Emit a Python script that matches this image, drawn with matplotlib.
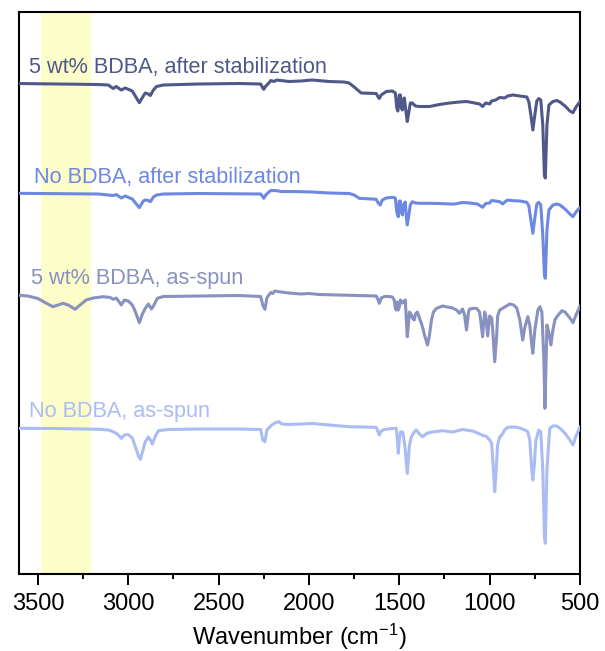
import matplotlib
matplotlib.use("Agg")
import matplotlib.pyplot as plt
from matplotlib.ticker import MultipleLocator

plt.rcParams['font.family'] = ['Liberation Sans', 'DejaVu Sans']
plt.rcParams['mathtext.fontset'] = 'custom'
plt.rcParams['mathtext.rm'] = 'Liberation Sans'
plt.rcParams['mathtext.it'] = 'Liberation Sans'

# ---------------- data ----------------
labels = ["5 wt% BDBA, after stabilization", "No BDBA, after stabilization",
          "5 wt% BDBA, as-spun", "No BDBA, as-spun"]

wn_stab_bdba = [3622, 3389, 3167, 3111, 3083, 3067, 3039, 3017, 2978, 2939, 2917, 2906, 2889, 2878,
                2861, 2844, 2806, 2611, 2389, 2267, 2256, 2250, 2239, 2222, 2211, 2194, 2178, 2156,
                2111, 2044, 1983, 1889, 1806, 1778, 1750, 1711, 1628, 1617, 1611, 1600, 1572, 1539,
                1522, 1514, 1508, 1500, 1494, 1489, 1483, 1478, 1472, 1461, 1456, 1450, 1439, 1428,
                1411, 1389, 1333, 1278, 1222, 1167, 1128, 1083, 1056, 1039, 1022, 1000, 989, 967,
                944, 917, 900, 872, 833, 794, 783, 772, 761, 750, 739, 728, 717, 706, 697, 692, 683,
                672, 650, 628, 611, 583, 556, 539, 522, 500]
t_stab_bdba = [100, 99.5, 99, 98.5, 95, 97, 93.5, 95.5, 92.5, 80.8, 87.5, 90.5, 89.5, 88,
               93.5, 97, 98.5, 99.5, 100, 99.5, 95.5, 94.2, 97.5, 100.5, 103, 102, 103.5, 103,
               102, 102.5, 103.5, 102, 101.5, 100.5, 96.5, 90.5, 90, 86.5, 85, 88.5, 92, 92.5,
               90.5, 75.5, 72.5, 88.5, 88.5, 75.5, 73.5, 83.5, 85.5, 68.5, 62, 68.5, 80.5, 80.5,
               77.5, 77, 77, 79, 80.5, 81.5, 82, 80.5, 79.5, 77, 80.5, 79.5, 82.5, 83.5,
               86, 85.5, 87.5, 88.5, 87.5, 86.5, 81.5, 68.5, 53.5, 68.5, 82.5, 85, 83.5, 58.5, 8.5, 5.5, 58.5,
               78.5, 82, 83, 81.5, 77.5, 72.5, 70.8, 76.5, 82]

wn_stab_none = [3622, 3167, 3083, 3067, 3039, 3017, 2978, 2939, 2917, 2906, 2889, 2878, 2861, 2844,
                2806, 2611, 2267, 2250, 2239, 2222, 2211, 2178, 2156, 2111, 2044, 1983, 1889, 1778,
                1750, 1722, 1628, 1617, 1606, 1594, 1572, 1539, 1522, 1514, 1506, 1500, 1494, 1489,
                1483, 1478, 1467, 1461, 1456, 1450, 1439, 1428, 1411, 1389, 1333, 1278, 1222, 1194,
                1150, 1111, 1067, 1039, 1022, 1000, 989, 967, 944, 928, 917, 900, 872, 833, 794,
                783, 772, 761, 750, 739, 728, 717, 706, 697, 692, 683, 672, 650, 628, 611, 583,
                556, 539, 522, 500]
t_stab_none = [100, 99.3, 97.8, 98.8, 95.3, 97.3, 94.3, 85.6, 92.3, 93.3, 92.8, 91.6, 96.3, 98.3,
               99.3, 99.8, 99.3, 95, 98.3, 101.3, 102.8, 102.6, 101.8, 101.8, 101.6, 101.3, 100.3, 99.8,
               98.3, 95, 94, 90.3, 88.3, 93.3, 95.3, 96, 95.3, 81.3, 76.6, 92.3, 92.3, 81.3,
               78.3, 88.3, 91.3, 75.3, 68.3, 75.3, 88.3, 91.6, 90.3, 90, 90, 89.8, 89.3, 89.3,
               90.8, 90.3, 89.3, 86, 89.8, 90.3, 92.8, 92.3, 91.6, 89.3, 91.3, 93.3, 92.6, 92.3, 91,
               87.3, 73.3, 60, 75.3, 89.3, 91, 88.3, 58.3, 18.3, 15, 63.3, 83.3, 88.3, 89.3, 88.3, 84.3,
               79.3, 76.6, 81.3, 86]

wn_spun_bdba = [3622, 3556, 3500, 3456, 3417, 3389, 3361, 3333, 3294, 3267, 3233, 3194, 3139, 3100,
                3083, 3067, 3050, 3039, 3022, 3000, 2978, 2961, 2939, 2922, 2906, 2889, 2872, 2861,
                2839, 2806, 2611, 2389, 2267, 2256, 2244, 2233, 2222, 2211, 2200, 2189, 2167, 2111,
                2044, 2000, 1944, 1833, 1722, 1628, 1617, 1611, 1600, 1583, 1556, 1539, 1528, 1522,
                1517, 1511, 1506, 1500, 1494, 1483, 1478, 1467, 1461, 1456, 1450, 1444, 1433, 1428,
                1417, 1411, 1400, 1389, 1378, 1367, 1361, 1344, 1333, 1322, 1311, 1294, 1261, 1233,
                1206, 1183, 1167, 1150, 1139, 1128, 1117, 1111, 1089, 1072, 1056, 1050, 1039, 1028,
                1022, 1011, 1000, 989, 983, 972, 961, 956, 944, 917, 889, 867, 850, 833, 817, 806,
                789, 778, 767, 761, 750, 733, 722, 711, 700, 694, 689, 683, 672, 661, 650, 639, 628,
                600, 583, 556, 539, 522, 500]
t_spun_bdba = [100, 99, 96.5, 92, 88.3, 90, 91.7, 90, 85.7, 90, 95, 97, 98.3, 97.5,
               95.7, 97, 93, 90, 95, 94, 90, 83.3, 72.3, 81, 86.7, 91, 86, 89,
               96.7, 98.5, 99, 99.5, 98.5, 90, 85.7, 97, 100, 102.5, 101.5, 104, 103.3, 102,
               101, 101.5, 100.5, 100, 99.5, 99, 95, 91.7, 97, 98.5, 98.5, 98, 95, 87,
               85, 93, 85, 88, 95, 92, 93, 95, 75, 58.3, 70, 83, 80, 77,
               75, 81, 83, 77, 71.7, 65, 60, 50, 60, 75, 83, 86.7, 89, 88,
               87, 85, 81.7, 86, 80, 65, 83, 86, 86.7, 86.7, 83, 75, 58.3, 83,
               80, 59, 79, 77, 65, 33.3, 60, 79, 85, 88, 91, 90, 87, 75, 55, 67,
               78.3, 70, 50, 41.7, 65, 85, 88.3, 83, 35, -13.3, 25, 70, 62, 50, 65, 75, 78.3,
               84.3, 83, 77, 72.3, 80, 89]

wn_spun_none = [3622, 3389, 3156, 3111, 3083, 3061, 3039, 3022, 3000, 2978, 2961, 2944, 2933, 2922,
                2906, 2889, 2878, 2867, 2850, 2833, 2778, 2611, 2389, 2267, 2256, 2244, 2233, 2222,
                2206, 2189, 2167, 2150, 2111, 2044, 1983, 1889, 1778, 1628, 1617, 1611, 1600, 1583,
                1539, 1517, 1511, 1506, 1500, 1494, 1483, 1478, 1467, 1461, 1456, 1450, 1444, 1433,
                1417, 1406, 1389, 1372, 1344, 1317, 1261, 1206, 1150, 1094, 1067, 1044, 1017, 1000,
                989, 981, 972, 964, 956, 944, 933, 917, 900, 861, 833, 806, 789, 778, 767, 761, 753,
                744, 728, 717, 706, 697, 692, 683, 672, 667, 650, 628, 606, 583, 556, 539, 522, 500]
t_spun_none = [100, 99.8, 99, 98.3, 96.6, 94.3, 90, 93.3, 93.8, 90.3, 81.6, 72.3, 69, 76.3,
               86.6, 91.3, 88.3, 84.3, 92.3, 97.6, 98.8, 99.3, 99.3, 98.8, 88.3, 86.6, 98.3, 100.3,
               103.3, 105.3, 106.6, 104.3, 103.8, 104.3, 104.8, 103.3, 101.6, 101, 96.3, 93.3, 97.3, 98.8,
               99.8, 100, 88.3, 75, 88.3, 96.3, 96.3, 93.3, 78.3, 65, 55, 68.3, 83.3, 91.6,
               96.3, 98.3, 94.3, 91.6, 95.3, 96.3, 97.6, 96.3, 98.8, 97.3, 95.3, 93.3, 91.8, 88.3,
               85, 63.3, 36.6, 58.3, 83.3, 91.3, 93.3, 98.3, 101, 101.3, 100.3, 98.3, 96.6, 88.3, 58.3, 48.3, 63.3,
               88.3, 98.3, 96.3, 58.3, -6.7, -15, 58.3, 88.3, 100, 102.3, 102.3, 99.3, 95, 88.3, 83.3, 92.3, 101.6]

spectra = [(wn_stab_bdba, t_stab_bdba), (wn_stab_none, t_stab_none),
           (wn_spun_bdba, t_spun_bdba), (wn_spun_none, t_spun_none)]
offsets = [389.5, 279.7, 178, 44.7]
colors = ["#4f5888", "#6c88e2", "#8891bf", "#aabcf3"]
label_pos = [(3548, 500), (3522, 390), (3540, 289), (3548, 156)]

highlight = (3485, 3207)
xticks = [3500, 3000, 2500, 2000, 1500, 1000, 500]

# ---------------- figure ----------------
fig = plt.figure(figsize=(6.05, 6.51), dpi=100)
ax = fig.add_axes([19/605, 1 - 574/651, (580-19)/605, (574-12)/651])

ax.axvspan(highlight[0], highlight[1], color="#fdfdca", zorder=0, lw=0)

for (wn, t), off, c, lab, (lx, ly) in zip(spectra, offsets, colors, labels, label_pos):
    ax.plot(wn, [v + off for v in t], color=c, lw=2.2, solid_joinstyle='round',
            solid_capstyle='round', zorder=3)
    ax.text(lx, ly, lab, color=c, fontsize=15.6, va='baseline', ha='left', zorder=4)

ax.set_xlim(3605, 500)
ax.set_ylim(-1, 561)
ax.set_xticks(xticks)
ax.set_xticklabels([str(v) for v in xticks])
ax.xaxis.set_minor_locator(MultipleLocator(250))
ax.set_yticks([])
ax.tick_params(axis='x', which='major', direction='out', length=8, width=1.4, labelsize=17, pad=5.4)
ax.tick_params(axis='x', which='minor', direction='out', length=3.6, width=1.4)
for s in ax.spines.values():
    s.set_linewidth(1.5)
    s.set_color('black')
ax.set_xlabel(r"Wavenumber (cm$^{\mathregular{-1}}$)", fontsize=17, labelpad=5)

fig.savefig("out.png", dpi=100)
